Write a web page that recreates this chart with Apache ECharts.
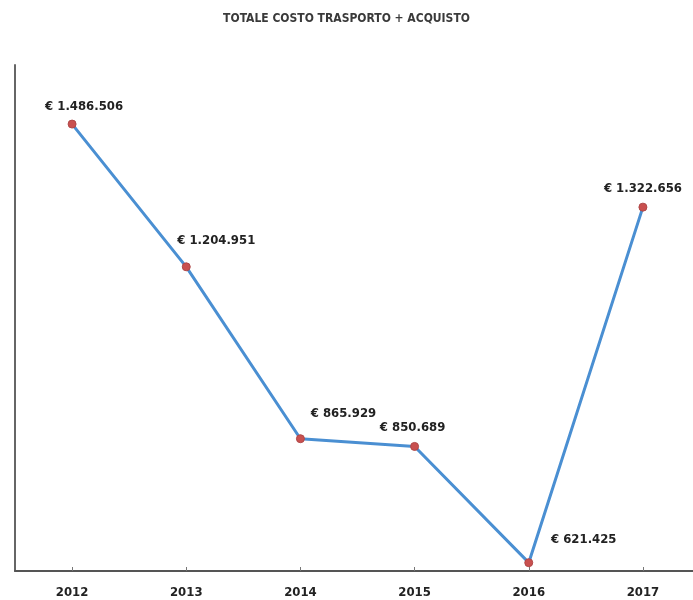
<!DOCTYPE html>
<html>
<head>
<meta charset="utf-8">
<script src="https://cdn.jsdelivr.net/npm/echarts@6/dist/echarts.min.js"></script>
<style>html,body{margin:0;padding:0;background:#fff}#c{width:693px;height:600px}</style>
</head>
<body>
<div id="c"></div>
<script>
var years = ['2012', '2013', '2014', '2015', '2016', '2017'];
var totals = [1486506, 1204951, 865929, 850689, 621425, 1322656];
var labelOffsets = [[12, 0], [30, -9], [43, -8], [-2, -2], [55, -6], [0, -2]];

function fmt(v) {
  return '€ ' + String(v).replace(/\B(?=(\d{3})+(?!\d))/g, '.');
}

var chart = echarts.init(document.getElementById('c'));
chart.setOption({
  animation: false,
  backgroundColor: '#fff',
  title: {
    text: 'TOTALE COSTO TRASPORTO + ACQUISTO',
    left: 'center',
    top: 8,
    textStyle: { fontFamily: 'DejaVu Sans Condensed', fontWeight: 'bold', fontSize: 12, color: '#3a3a3a' }
  },
  grid: { left: 15, width: 685, top: 65, bottom: 29, containLabel: false, outerBoundsMode: 'none' },
  xAxis: {
    type: 'category',
    data: years,
    boundaryGap: true,
    axisLine: { lineStyle: { color: '#555', width: 2 } },
    axisTick: { show: true, alignWithLabel: true, inside: true, length: 4, lineStyle: { color: '#777' } },
    axisLabel: { margin: 15, color: '#222', fontFamily: 'DejaVu Sans Condensed', fontWeight: 'bold', fontSize: 13 },
    splitLine: { show: false }
  },
  yAxis: {
    type: 'value',
    min: 605000,
    max: 1603000,
    axisLine: { show: true, lineStyle: { color: '#666', width: 2 } },
    axisTick: { show: false },
    axisLabel: { show: false },
    splitLine: { show: false }
  },
  series: [{
    type: 'line',
    data: totals.map(function (v, i) {
      return { value: v, label: { offset: labelOffsets[i] } };
    }),
    lineStyle: { color: '#4a8fd2', width: 3 },
    itemStyle: { color: '#c9504f', borderColor: '#b04848', borderWidth: 1 },
    symbol: 'circle',
    symbolSize: 8,
    label: {
      show: true,
      position: 'top',
      distance: 6,
      formatter: function (p) { return fmt(p.value); },
      color: '#222',
      fontFamily: 'DejaVu Sans Condensed',
      fontWeight: 'bold',
      fontSize: 13
    }
  }]
});
</script>
</body>
</html>
